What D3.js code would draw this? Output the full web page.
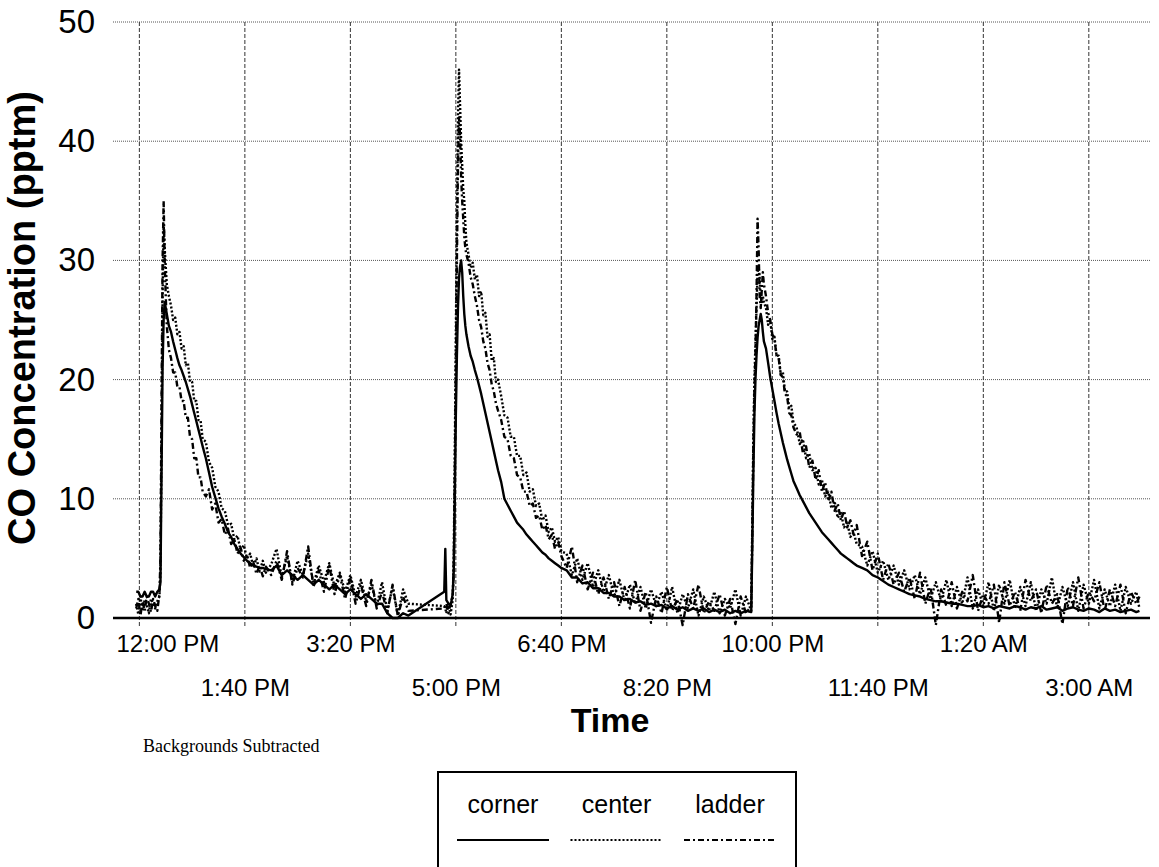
<!DOCTYPE html>
<html>
<head>
<meta charset="utf-8">
<script src="https://cdn.jsdelivr.net/npm/d3@7"></script>
<style>
  body { margin: 0; background: #fff; }
  svg { display: block; font-family: "Liberation Sans", Arial, sans-serif; }
</style>
</head>
<body>
<div id="chart"></div>
<script>
// minutes after 12:00 PM
const minutes = [
  -3,-1,1,3,5,7,9,11,13,15,17,19,
  20,21,22,23,24,25,26,27,28,
  30,32,34,36,38,40,42,44,46,48,50,52,54,56,58,60,
  63,66,69,72,75,78,81,84,87,90,93,96,99,102,105,108,111,114,117,120,
  125,130,135,140,145,150,155,160,165,170,175,180,185,190,195,200,205,210,215,220,225,230,235,240,245,250,255,
  289,290,291,293,295,297,
  298,299,300,301,302,303,304,305,306,307,308,309,310,
  312,314,316,318,320,322,324,326,328,330,332,334,336,338,340,
  343,346,349,352,355,358,361,364,367,370,373,376,379,382,385,388,391,394,397,400,
  405,410,415,420,425,430,435,440,445,450,455,460,465,470,475,480,485,490,495,500,505,510,515,520,525,530,535,540,545,550,555,560,565,570,575,580,
  581,582,583,584,585,586,587,588,589,590,591,592,
  594,596,598,600,602,604,606,608,610,612,614,616,618,620,
  623,626,629,632,635,638,641,644,647,650,653,656,659,662,665,668,671,674,677,680,
  685,690,695,700,705,710,715,720,725,730,735,740,745,750,755,760,765,770,775,780,785,790,795,800,805,810,815,820,825,830,835,840,845,850,855,860,865,870,875,880,885,890,895,900,905,910,915,920,925,930,935,940,945,948
];

const corner = [
  2.2,2.2,1.8,1.8,2.2,1.8,1.8,2.2,2.2,1.8,2.2,2.4,
  3,12,21,25,26.5,26,25.5,25,24.5,
  24,23.2,22.5,21.8,21.2,20.8,20.3,19.8,19.2,18.6,17.9,17.2,16.5,15.8,15.1,14.4,
  13.4,12.2,11.0,10.1,9.2,8.5,7.9,7.2,6.8,6.2,5.8,5.4,5.1,4.8,4.6,4.4,4.3,4.2,4.2,4.1,
  4.0,4.4,3.6,4.0,3.6,3.2,3.6,3.2,2.8,3.2,2.8,2.4,2.8,2.4,2.0,2.4,2.0,1.6,2.0,1.6,1.2,1.2,0.4,0.0,0.0,0.4,0.2,
  2.2,5.8,1.5,1.2,1.0,2.0,
  4,10,17,22,26,28.5,29.5,30,29,27,25.5,24.5,23.8,
  22.8,22,21.5,20.8,20.2,19.5,18.8,18.0,17.2,16.4,15.6,14.8,14.0,13.2,12.4,
  11.4,10.0,9.5,9.0,8.5,8.0,7.7,7.4,7.0,6.7,6.4,6.1,5.8,5.5,5.3,5.0,4.8,4.6,4.4,4.2,
  4.0,3.4,3.4,2.9,3.0,2.5,2.5,2.1,2.1,1.8,1.8,1.5,1.6,1.3,1.4,1.1,1.2,1.0,1.1,0.8,1.0,0.7,0.9,0.6,0.8,0.6,0.8,0.5,0.7,0.5,0.7,0.4,0.6,0.4,0.6,0.5,
  6,12,17,20,22,23.5,24.5,25,25.5,25,24,23.2,
  22.6,21.4,20.2,19.2,18.2,17.2,16.3,15.5,14.7,14.0,13.3,12.7,12.1,11.5,
  10.9,10.3,9.8,9.3,8.8,8.4,8.0,7.6,7.2,6.9,6.6,6.3,6.0,5.7,5.4,5.2,5.0,4.8,4.6,4.4,
  4.2,4.0,3.6,3.4,3.1,2.8,2.6,2.4,2.2,2.0,1.9,1.8,1.6,1.5,1.4,1.4,1.3,1.2,1.2,1.1,1.0,1.0,1.1,0.9,1.0,0.8,1.0,0.9,0.8,1.0,0.9,0.7,0.9,0.8,1.0,0.7,0.8,0.9,0.6,0.8,0.9,0.7,0.6,0.8,0.7,0.5,0.8,0.6,0.7,0.5,0.6,0.7,0.5,0.6
];

const center = [
  1.2,0.3,1.8,0.6,1.5,1.0,0.4,1.6,1.2,0.8,1.4,1.8,
  4,15,27,33,31,29.5,28,27.5,27,
  26.2,25.0,25.2,23.8,24.0,22.6,22.8,21.2,21.4,19.8,19.8,18.2,18.2,16.6,16.6,15.0,
  14.8,13.1,12.6,11.0,10.6,9.2,9.0,7.8,7.9,6.6,6.9,5.7,6.1,5.0,5.4,4.3,5.0,3.9,4.8,3.8,
  4.5,5.8,3.4,5.2,3.0,4.8,3.6,5.4,2.8,4.4,3.0,4.6,2.6,3.8,2.2,3.6,1.8,3.2,1.4,2.8,1.0,3.0,0.6,2.6,0.2,2.4,1.2,
  1.0,0.8,0.4,1.2,0.3,1.5,
  5,14,24,33,42,46,43,40,38,36,35,33,31.5,
  30.5,29.4,29.8,28.4,28.8,27.0,27.4,25.4,25.6,23.6,23.8,21.6,21.8,19.8,20.0,
  18.6,17.0,16.8,15.2,15.2,13.6,13.6,12.0,12.2,10.6,10.8,9.4,9.6,8.2,8.6,7.2,7.6,6.4,6.8,5.6,
  5.4,3.6,5.0,3.2,4.6,2.6,4.0,2.2,3.6,1.8,3.2,1.4,2.8,1.2,2.6,0.8,2.4,1.0,2.2,0.6,2.6,0.4,2.0,0.8,2.4,0.2,1.8,0.6,2.2,0.4,1.6,0.8,2.4,0.2,1.8,0.6,
  8,15,20,23,26,29,29.5,28.5,27,26.5,27,26.5,
  26.0,24.6,25.0,23.4,23.6,22.0,22.0,20.4,20.6,19.0,19.0,17.6,17.8,16.4,
  16.0,14.6,15.0,13.4,13.8,12.4,12.6,11.2,11.6,10.2,10.6,9.2,9.8,8.4,8.8,7.6,8.0,6.8,7.2,6.2,
  6.0,4.4,5.6,3.8,4.8,3.2,4.4,2.8,4.0,2.4,3.6,2.0,3.4,1.6,3.0,1.4,3.2,1.0,2.6,1.2,3.4,0.8,2.4,1.0,3.0,0.6,2.8,1.2,3.2,0.8,2.6,1.0,3.0,0.6,2.4,1.2,3.4,0.8,2.6,1.0,3.0,0.6,2.8,1.2,3.2,0.8,2.4,1.0,2.8,0.6,2.6,1.2,2.2,0.8
];

const ladder = [
  0.8,1.6,0.2,1.4,0.6,1.8,1.2,0.5,1.6,1.0,0.6,2.0,
  5,18,30,35,30,27,24.5,23.5,22.5,
  21.8,20.6,20.6,19.4,19.4,18.2,18.2,16.8,16.8,15.2,15.0,13.4,13.4,11.8,11.8,10.6,
  10.2,10.8,9.1,9.6,8.0,8.3,7.0,7.5,6.2,6.6,5.4,5.9,4.8,5.3,4.2,4.7,3.7,4.4,3.5,4.3,
  3.6,4.8,3.2,5.6,2.8,4.2,3.4,6.0,2.6,4.0,2.2,4.4,2.0,3.6,1.6,3.4,1.2,2.8,1.0,3.2,0.8,2.2,0.4,2.8,0.2,1.8,0.6,
  0.8,1.0,1.2,0.4,1.3,1.8,
  4,12,21,30,38,42,40.5,37,35,33.5,32,31,30.5,
  29.8,28.6,28.0,27.0,26.2,25.0,24.4,23.2,22.6,21.4,20.8,19.6,19.0,18.0,17.4,
  16.6,15.2,15.0,13.6,13.4,12.0,11.8,10.6,10.6,9.4,9.6,8.4,8.6,7.4,7.8,6.6,7.0,5.8,6.4,5.2,
  4.2,6.0,3.0,4.4,2.4,3.8,2.0,3.4,1.6,3.0,1.0,2.6,0.8,3.2,0.6,2.2,-0.4,1.8,0.4,2.6,0.6,1.6,-0.6,2.0,0.8,2.8,0.4,1.4,0.6,2.0,0.2,1.6,-0.5,1.8,0.4,1.0,
  7,14,19,22,27,33.5,31,27,26,27.5,29,28,
  27.0,25.6,25.0,23.8,23.4,22.0,21.8,20.4,20.2,18.8,18.6,17.2,17.0,16.0,
  15.4,15.6,13.8,14.4,12.6,13.2,11.6,12.4,10.6,11.4,9.8,10.6,9.0,9.6,8.2,9.0,7.6,8.2,7.0,7.8,
  5.2,6.4,4.0,5.4,3.2,4.6,2.8,3.8,2.2,3.4,1.6,3.8,1.2,2.6,-0.6,2.4,1.0,3.0,0.8,2.2,1.4,3.6,0.6,2.0,1.2,2.8,-0.4,3.0,1.0,2.2,0.6,3.2,1.4,2.4,0.4,2.8,1.2,2.0,-0.5,2.6,1.0,3.4,0.8,2.2,1.4,3.0,0.6,2.4,1.0,2.8,0.4,2.2,1.2,1.8
];

const seriesNames = ["corner", "center", "ladder"];
const tickMinutes = [0, 100, 200, 300, 400, 500, 600, 700, 800, 900];
const tickLabels = ["12:00 PM", "1:40 PM", "3:20 PM", "5:00 PM", "6:40 PM", "8:20 PM", "10:00 PM", "11:40 PM", "1:20 AM", "3:00 AM"];
const yTicks = [0, 10, 20, 30, 40, 50];

const width = 1159;
const height = 867;
const marginLeft = 113, plotRight = 1150, marginTop = 22, plotBottom = 618;

const dashes = { corner: null, center: "2,2", ladder: "6,3,2,3" };
const values = { corner: corner, center: center, ladder: ladder };

const svg = d3.select("#chart")
    .append("svg")
    .attr("width", width)
    .attr("height", height)
    .attr("viewBox", [0, 0, width, height]);

const x = d3.scaleLinear([-25, 958], [marginLeft, plotRight]);
const y = d3.scaleLinear([0, 50], [plotBottom, marginTop]);

// horizontal grid
svg.append("g")
    .selectAll("line")
    .data(yTicks.filter(d => d > 0))
    .join("line")
    .attr("x1", marginLeft).attr("x2", plotRight)
    .attr("y1", d => y(d)).attr("y2", d => y(d))
    .attr("stroke", "#555")
    .attr("stroke-width", 1)
    .attr("stroke-dasharray", "1,1");

// vertical grid
svg.append("g")
    .selectAll("line")
    .data(tickMinutes)
    .join("line")
    .attr("x1", d => x(d)).attr("x2", d => x(d))
    .attr("y1", marginTop).attr("y2", plotBottom + 8)
    .attr("stroke", "#333")
    .attr("stroke-width", 1)
    .attr("stroke-dasharray", "4,2");

// y axis labels
svg.append("g")
    .attr("transform", `translate(${marginLeft},0)`)
    .call(d3.axisLeft(y).tickValues(yTicks).tickSize(0).tickPadding(18))
    .call(g => g.select(".domain").remove())
    .call(g => g.selectAll("text")
        .attr("font-family", "Liberation Sans, Arial, sans-serif")
        .attr("font-size", 33)
        .attr("fill", "#000"));

// x axis labels, staggered
svg.append("g")
    .attr("transform", `translate(0,${plotBottom})`)
    .call(d3.axisBottom(x).tickValues(tickMinutes).tickFormat((d, i) => tickLabels[i]).tickSize(0))
    .call(g => g.select(".domain").remove())
    .call(g => g.selectAll("text")
        .attr("font-family", "Liberation Sans, Arial, sans-serif")
        .attr("font-size", 24)
        .attr("fill", "#000")
        .attr("dy", null)
        .attr("y", (d, i) => i % 2 === 0 ? 34 : 78)
        .attr("x", (d, i) => i === 0 ? 28 : 0));

// zero line
svg.append("line")
    .attr("x1", marginLeft).attr("x2", plotRight)
    .attr("y1", y(0)).attr("y2", y(0))
    .attr("stroke", "#000")
    .attr("stroke-width", 2.5);

const line = d3.line()
    .x((d, i) => x(minutes[i]))
    .y(d => y(d));

// draw lines, corner last so it sits on top
["center", "ladder", "corner"].forEach(name => {
    svg.append("path")
        .attr("d", line(values[name]))
        .attr("fill", "none")
        .attr("stroke", "#000")
        .attr("stroke-width", 2.4)
        .attr("stroke-linejoin", "round")
        .attr("stroke-dasharray", dashes[name]);
});

// axis titles
svg.append("text")
    .attr("transform", "translate(35,318) rotate(-90)")
    .attr("text-anchor", "middle")
    .attr("font-size", 38)
    .attr("font-weight", "bold")
    .text("CO Concentration (pptm)");

svg.append("text")
    .attr("x", 610)
    .attr("y", 732)
    .attr("text-anchor", "middle")
    .attr("font-size", 34)
    .attr("font-weight", "bold")
    .text("Time");

svg.append("text")
    .attr("x", 143)
    .attr("y", 752)
    .attr("font-family", "Liberation Serif, Times New Roman, serif")
    .attr("font-size", 18)
    .text("Backgrounds Subtracted");

// legend
const legend = svg.append("g");
legend.append("rect")
    .attr("x", 438).attr("y", 772)
    .attr("width", 358).attr("height", 130)
    .attr("fill", "#fff")
    .attr("stroke", "#000")
    .attr("stroke-width", 2);

const legendX = d3.scalePoint(seriesNames, [503, 730]);
seriesNames.forEach(name => {
    legend.append("text")
        .attr("x", legendX(name))
        .attr("y", 813)
        .attr("text-anchor", "middle")
        .attr("font-size", 25)
        .text(name);
    legend.append("line")
        .attr("x1", legendX(name) - 46).attr("x2", legendX(name) + 46)
        .attr("y1", 840).attr("y2", 840)
        .attr("stroke", "#000")
        .attr("stroke-width", 2)
        .attr("stroke-dasharray", dashes[name]);
});
</script>
</body>
</html>
